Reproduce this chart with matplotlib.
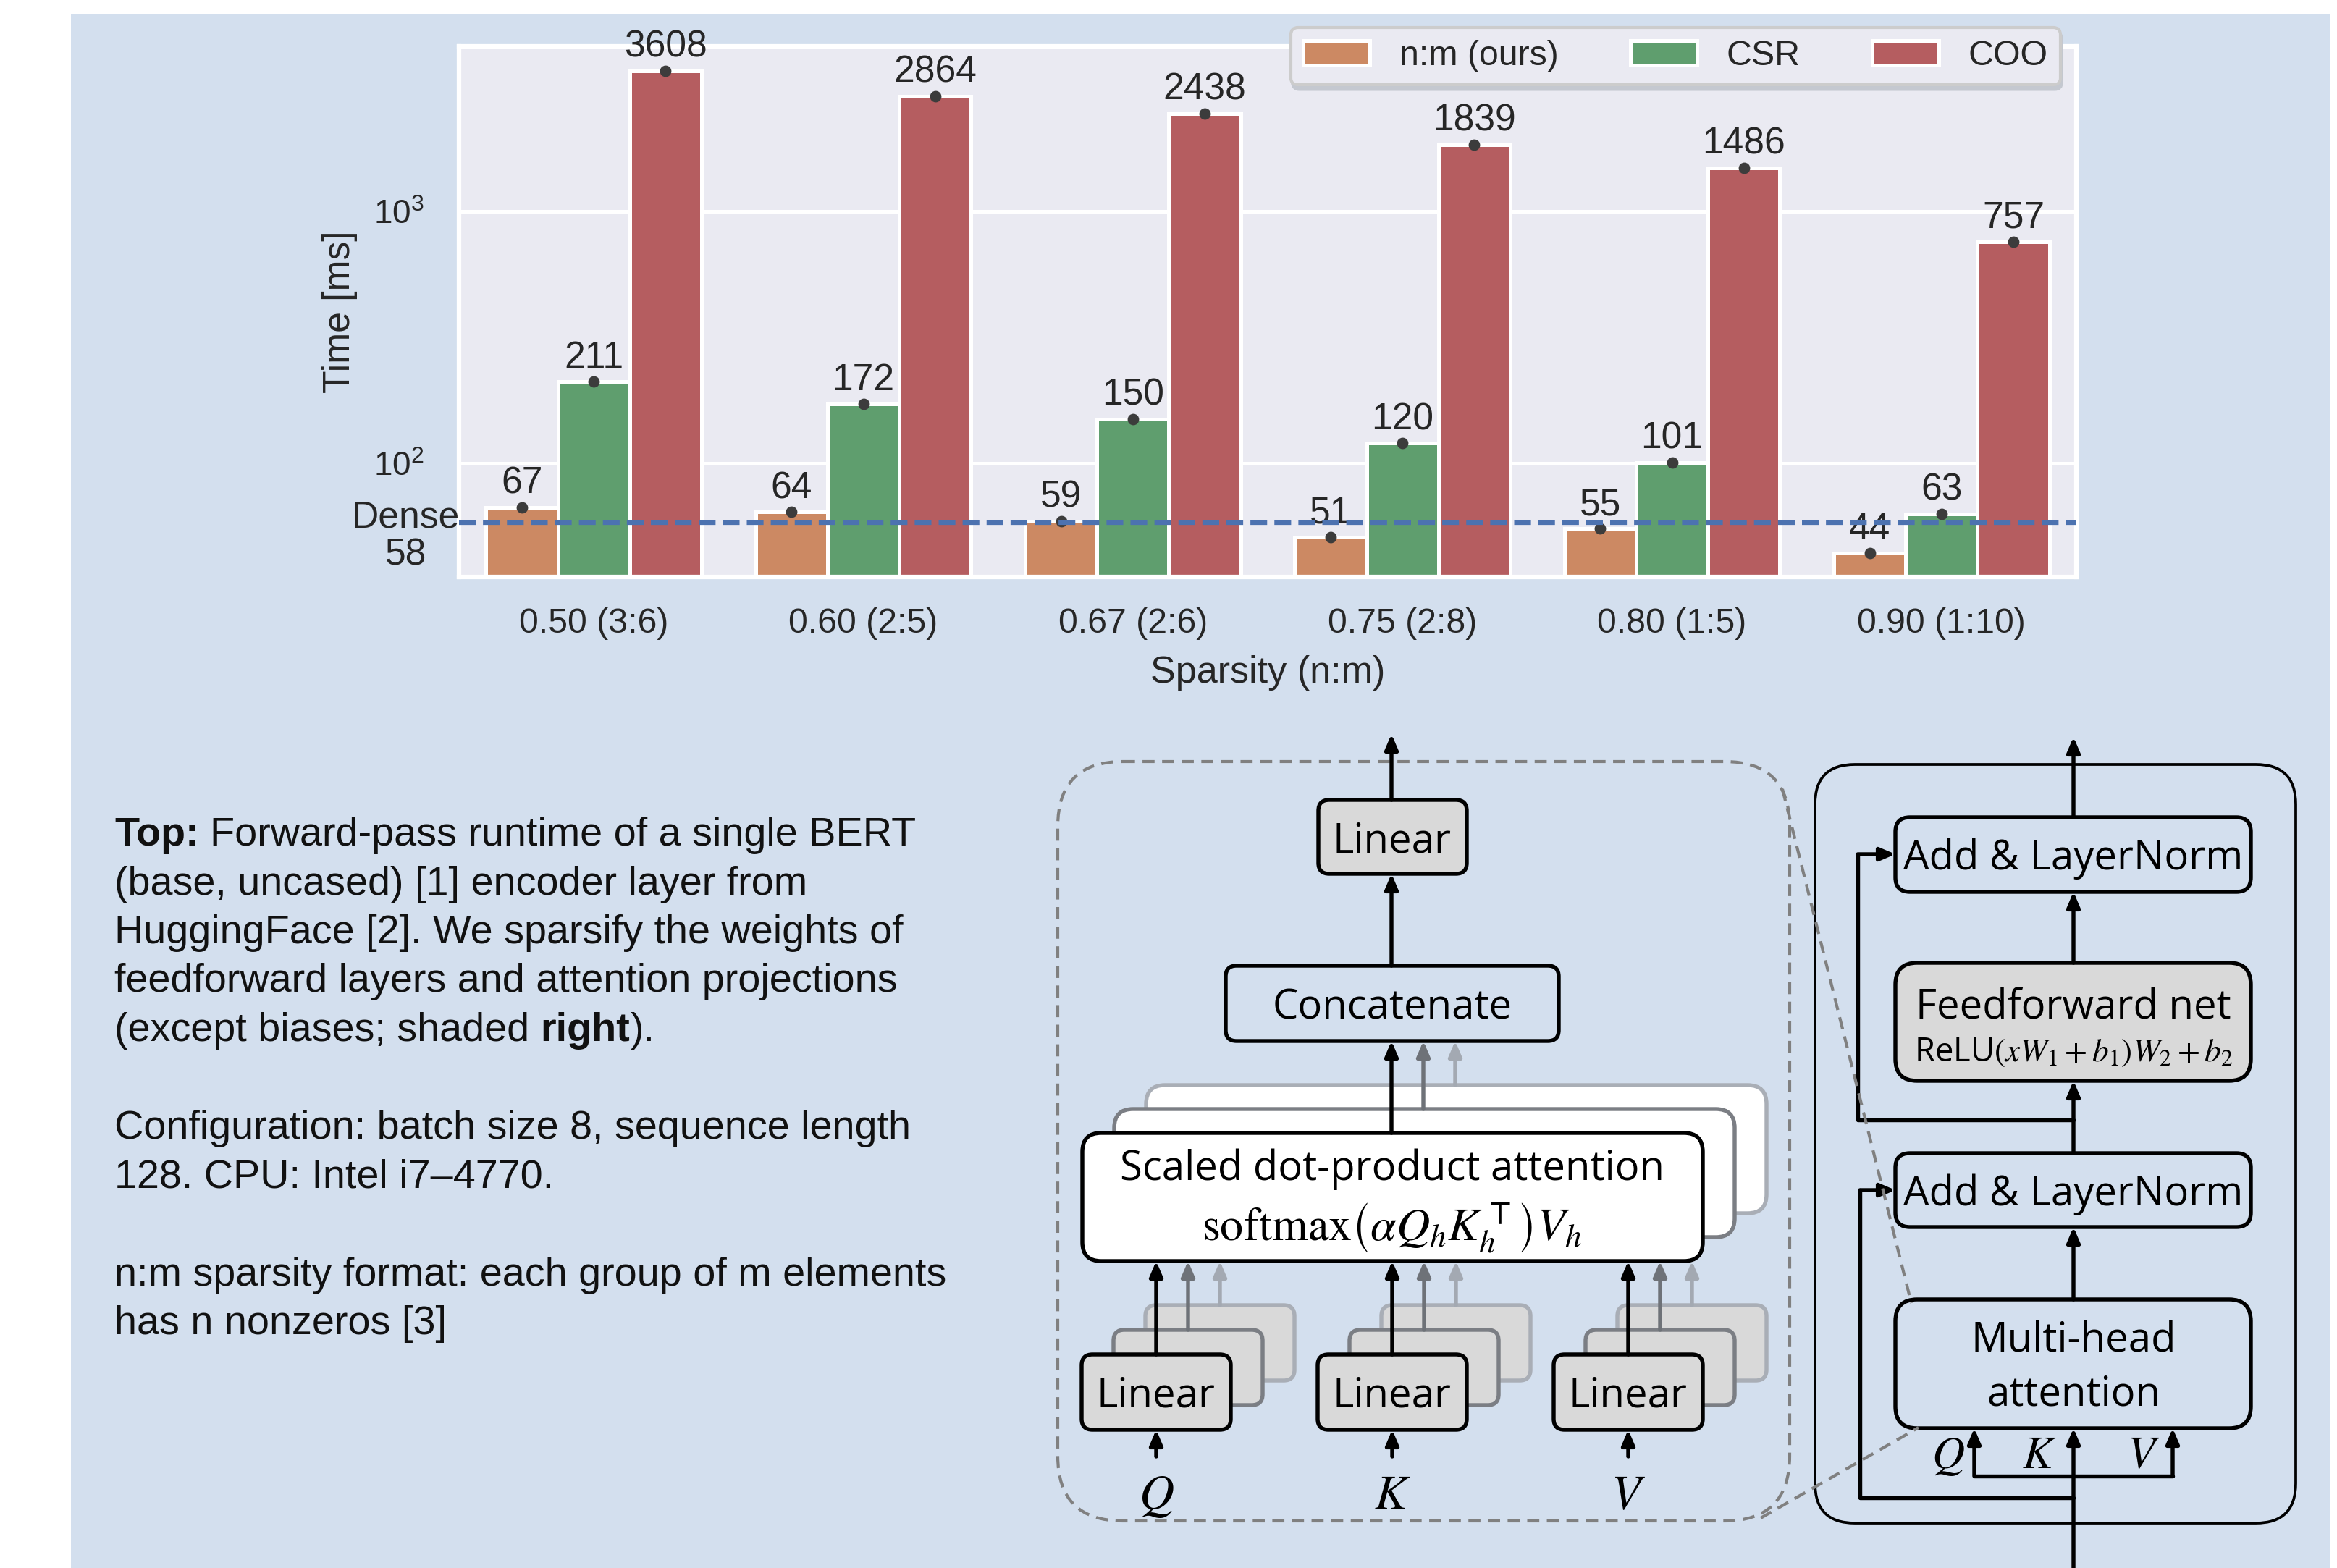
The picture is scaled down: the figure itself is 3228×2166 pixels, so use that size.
import numpy as np
import matplotlib
matplotlib.use('Agg')
import matplotlib.pyplot as plt
from matplotlib.patches import FancyBboxPatch, Rectangle
from matplotlib.ticker import NullLocator
import seaborn as sns

# forward-pass time of one BERT encoder layer [ms]
sparsity_labels = ['0.50 (3:6)', '0.60 (2:5)', '0.67 (2:6)',
                   '0.75 (2:8)', '0.80 (1:5)', '0.90 (1:10)']
method_names = ['n:m (ours)', 'CSR', 'COO']
time_nm  = [67, 64, 59, 51, 55, 44]
time_csr = [211, 172, 150, 120, 101, 63]
time_coo = [3608, 2864, 2438, 1839, 1486, 757]
dense_time = 58

caption = [
    [('Top:', 'bold'), (' Forward-pass runtime of a single BERT', 'normal')],
    [('(base, uncased) [1] encoder layer from', 'normal')],
    [('HuggingFace [2]. We sparsify the weights of', 'normal')],
    [('feedforward layers and attention projections', 'normal')],
    [('(except biases; shaded', 'normal'), (' right', 'bold'), (').', 'normal')],
    [],
    [('Configuration: batch size 8, sequence length', 'normal')],
    [('128. CPU: Intel i7\u20134770.', 'normal')],
    [],
    [('n:m sparsity format: each group of m elements', 'normal')],
    [('has n nonzeros [3]', 'normal')],
]

sns.set_theme(style='darkgrid')
plt.rcParams['font.family'] = ['Liberation Sans', 'DejaVu Sans']

W, H = 3228, 2166
DPI = 300
fig = plt.figure(figsize=(W / DPI, H / DPI), dpi=DPI, facecolor='white')

# background layer in pixel units (y downwards) for the panel, caption and diagrams
bg = fig.add_axes([0, 0, 1, 1], zorder=0)
bg.set_xlim(0, W)
bg.set_ylim(H, 0)
bg.axis('off')
bg.add_patch(Rectangle((98, 20), 3219 - 98, H - 20, color='#D3DFEE', lw=0, zorder=0))

# ---------------- bar chart ----------------
ax = fig.add_axes([634 / W, 1 - 797 / H, (2868 - 634) / W, (797 - 64) / H], zorder=2)
ax.set_yscale('log')
x = np.arange(len(sparsity_labels))
bar_w = 0.8 / 3
series = [time_nm, time_csr, time_coo]
colors = [sns.desaturate(c, 0.75) for c in sns.color_palette('deep')[1:4]]
for k, (vals, col, name) in enumerate(zip(series, colors, method_names)):
    pos = x + (k - 1) * bar_w
    ax.bar(pos, vals, bar_w, color=col, edgecolor='white', linewidth=1.2,
           label=name, zorder=2)
    ax.plot(pos, vals, 'o', color='#3c3c3c', ms=2.8, zorder=3)
    for p, v in zip(pos, vals):
        ax.annotate(str(v), (p, v), xytext=(0, 2), textcoords='offset points',
                    ha='center', va='bottom', fontsize=12.4, color='#262626', zorder=4)

ax.axhline(dense_time, ls='--', color='#4C72B0', lw=1.5, zorder=5)
ax.set_xlim(-0.5, len(sparsity_labels) - 0.5)
ax.set_ylim(35.4, 4520)
ax.set_xticks(x)
ax.set_xticklabels(sparsity_labels)
ax.set_yticks([100, 1000])
ax.set_yticklabels([r'$\mathdefault{10^{2}}$', r'$\mathdefault{10^{3}}$'])
ax.yaxis.set_minor_locator(NullLocator())
ax.tick_params(axis='x', length=0, pad=10, labelsize=11.6, labelcolor='#262626')
ax.tick_params(axis='y', length=0, pad=11.5, labelsize=11, labelcolor='#262626')
ax.grid(True, axis='y', which='major', color='white', lw=1.2)
ax.grid(False, axis='x')
for sp in ax.spines.values():
    sp.set_color('white')
    sp.set_linewidth(1.5)

ax.annotate('Dense\n58', xy=(0, dense_time), xycoords=('axes fraction', 'data'),
            xytext=(0.3, -4.5), textcoords='offset points', ha='right', va='center',
            multialignment='center', fontsize=12.4, linespacing=1.08, color='#262626')

ax.set_xlabel('Sparsity (n:m)', fontsize=12.5, color='#262626')
ax.xaxis.set_label_coords(0.5, -0.147)
ax.set_ylabel('Time [ms]', fontsize=12.4, color='#262626')
ax.yaxis.set_label_coords(-0.0627, 0.5)

ax.legend(loc='upper right', bbox_to_anchor=(0.99, 1.035), ncol=3, fontsize=11.6,
          handlelength=1.9, handletextpad=0.85, columnspacing=2.05, borderpad=0.35,
          borderaxespad=0, frameon=True, facecolor='#EAEAF2', edgecolor='#cccccc',
          framealpha=1, shadow={'ox': 0.5, 'oy': -1.5, 'color': '#c4c8d0', 'alpha': 1})

# ---------------- caption ----------------
renderer = fig.canvas.get_renderer()


def draw_runs(x0, y0, runs, size=13.4):
    space = 0.278 * size * DPI / 72
    xc = x0
    for text, weight in runs:
        if text.startswith(' '):
            xc += space
            text = text[1:]
        t = bg.text(xc, y0, text, fontsize=size, fontweight=weight, ha='left',
                    va='baseline', color='#111111', zorder=3)
        xc += t.get_window_extent(renderer).width


for i, runs in enumerate(caption):
    draw_runs(158, 1168 + 67.5 * i, runs)

# ---------------- diagrams ----------------
DIAG_FONT = ['Open Sans', 'DejaVu Sans']
LW = 1.3
STACK_EDGE = ['black', '#7b7e84', '#a9aeb6']
STACK_ARROW = ['black', '#6e7278', '#a3a9b2']


def rbox(x0, y0, x1, y1, r, fc='none', ec='black', lw=LW, ls='-', z=3):
    bg.add_patch(FancyBboxPatch((x0, y0), x1 - x0, y1 - y0,
                                boxstyle=f'round,pad=0,rounding_size={r}',
                                fc=fc, ec=ec, lw=lw, ls=ls, zorder=z))


def arrow(x0, y0, x1, y1, color='black', z=5):
    bg.annotate('', xy=(x1, y1), xytext=(x0, y0),
                arrowprops=dict(arrowstyle='-|>,head_length=0.42,head_width=0.18',
                                mutation_scale=10, color=color, lw=LW,
                                shrinkA=0, shrinkB=0),
                zorder=z)


def label(x0, y0, s, size=13.5, **kw):
    bg.text(x0, y0, s, ha='center', va='baseline', fontsize=size,
            family=DIAG_FONT, color='black', zorder=6, **kw)


# multi-head attention (zoomed view)
rbox(1461, 1052, 2472, 2101, 90, ec='#808080', lw=1.0, ls=(0, (4, 2.5)), z=1)
arrow(1922, 1105, 1922, 1014)
rbox(1821, 1105, 2026, 1207, 15, fc='#d9d9d9')
label(1923, 1178, 'Linear')
arrow(1922, 1334, 1922, 1207)
rbox(1693, 1334, 2153, 1438, 15)
label(1923, 1407, 'Concatenate')

for k in (2, 1, 0):
    dx, dy = 44 * k, -33 * k
    rbox(1495 + dx, 1565 + dy, 2352 + dx, 1742 + dy, 26, fc='white',
         ec=STACK_EDGE[k], z=3 - 0.1 * k)
    arrow(1922 + dx, 1565 + dy, 1922 + dx, 1438, color=STACK_ARROW[k], z=5 - 0.1 * k)
label(1923, 1630, 'Scaled dot-product attention')
label(1923, 1714, r'$\mathrm{softmax}\left(\alpha Q_h K_h^{\top}\right)V_h$',
      size=15.4, math_fontfamily='stix')

for c, name in zip([1597, 1923, 2249], ['Q', 'K', 'V']):
    for k in (2, 1, 0):
        dx, dy = 44 * k, -34 * k
        rbox(c - 103 + dx, 1871 + dy, c + 103 + dx, 1975 + dy, 15, fc='#d9d9d9',
             ec=STACK_EDGE[k], z=3 - 0.1 * k)
        arrow(c + dx, 1871 + dy, c + dx, 1742, color=STACK_ARROW[k], z=5 - 0.1 * k)
    label(c, 1944, 'Linear')
    arrow(c, 2012, c, 1975)
    label(c, 2084, f'${name}$', size=16, math_fontfamily='stix')

# encoder layer
cx = 2864
rbox(2507, 1056, 3171, 2104, 55, lw=0.9, z=1)
arrow(cx, 1129, cx, 1018)
rbox(2618, 1129, 3109, 1232, 20)
label(cx, 1201, 'Add & LayerNorm')
arrow(cx, 1330, cx, 1232)
rbox(2618, 1330, 3109, 1493, 30, fc='#d9d9d9')
label(cx, 1407, 'Feedforward net')
label(cx, 1466, r'ReLU$(xW_1+b_1)W_2+b_2$', size=10.9, math_fontfamily='stix')
arrow(cx, 1593, cx, 1493)
bg.plot([cx, 2566, 2566], [1547, 1547, 1180], color='black', lw=LW, zorder=5)
arrow(2566, 1180, 2618, 1180)
rbox(2618, 1593, 3109, 1695, 20)
label(cx, 1665, 'Add & LayerNorm')
arrow(cx, 1795, cx, 1695)
rbox(2618, 1795, 3109, 1973, 30)
label(cx, 1867, 'Multi-head')
label(cx, 1941, 'attention')

arrow(cx, H, cx, 1973)
bg.plot([2727, 3001], [2039, 2039], color='black', lw=LW, zorder=5)
arrow(2727, 2039, 2727, 1973)
arrow(3001, 2039, 3001, 1973)
bg.plot([cx, 2569, 2569], [2069, 2069, 1644], color='black', lw=LW, zorder=5)
arrow(2569, 1644, 2618, 1644)
for lx, name in zip([2691, 2817, 2961], ['Q', 'K', 'V']):
    label(lx, 2028, f'${name}$', size=15, math_fontfamily='stix')

# zoom connectors
bg.plot([2462, 2640], [1090, 1800], color='#808080', lw=1.0, ls=(0, (4, 2.5)), zorder=7)
bg.plot([2432, 2650], [2097, 1972], color='#808080', lw=1.0, ls=(0, (4, 2.5)), zorder=7)

fig.savefig('out.png', dpi=DPI, facecolor='white')
